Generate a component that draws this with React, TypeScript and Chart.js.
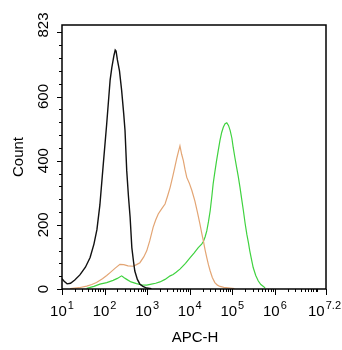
import { useEffect, useRef } from 'react';
import { Chart, registerables } from 'chart.js';

Chart.register(...registerables);

// ---- Data (x as log10 exponents, y as counts) ----
const blackExp = [1.0, 1.05, 1.12, 1.2, 1.3, 1.42, 1.55, 1.66, 1.75, 1.82, 1.89, 1.97, 2.05, 2.1, 2.13, 2.17, 2.22, 2.25, 2.27, 2.3, 2.35, 2.4, 2.45, 2.48, 2.52, 2.56, 2.6, 2.64, 2.68, 2.71, 2.77, 2.83, 2.9, 2.99, 3.1];
const blackCount = [32, 24, 16, 18, 28, 44, 68, 98, 140, 185, 262, 390, 515, 600, 651, 690, 728, 745, 742, 715, 680, 620, 545, 494, 369, 290, 223, 129, 85, 56, 30, 15, 8, 3, 1];

const tanExp = [1.19, 1.4, 1.58, 1.7, 1.81, 1.95, 2.05, 2.13, 2.25, 2.36, 2.45, 2.55, 2.67, 2.75, 2.83, 2.92, 2.99, 3.06, 3.14, 3.2, 3.26, 3.34, 3.42, 3.48, 3.54, 3.6, 3.65, 3.7, 3.73, 3.77, 3.81, 3.85, 3.89, 3.93, 3.99, 4.05, 4.12, 4.18, 4.24, 4.28, 4.32, 4.36, 4.4, 4.44, 4.48, 4.53, 4.59, 4.65, 4.71, 4.8, 4.95, 5.05];
const tanCount = [1, 4, 9, 14, 20, 32, 42, 51, 65, 77, 76, 72, 71, 76, 82, 100, 119, 150, 192, 215, 234, 250, 265, 290, 317, 350, 380, 410, 426, 446, 420, 400, 372, 348, 330, 307, 275, 240, 202, 175, 150, 122, 98, 75, 56, 36, 20, 12, 8, 5, 3, 1];

const greenExp = [1.58, 1.75, 1.89, 2.05, 2.2, 2.3, 2.4, 2.46, 2.52, 2.62, 2.75, 2.87, 2.99, 3.1, 3.2, 3.3, 3.42, 3.54, 3.61, 3.68, 3.77, 3.9, 4.01, 4.1, 4.2, 4.28, 4.32, 4.36, 4.4, 4.44, 4.48, 4.52, 4.55, 4.59, 4.63, 4.67, 4.71, 4.75, 4.79, 4.83, 4.87, 4.91, 4.95, 4.99, 5.02, 5.06, 5.1, 5.14, 5.18, 5.22, 5.26, 5.3, 5.34, 5.38, 5.41, 5.45, 5.49, 5.55, 5.61, 5.67, 5.73, 5.77];
const greenCount = [2, 8, 15, 20, 27, 33, 41, 35, 30, 22, 17, 13, 12, 15, 18, 22, 30, 41, 45, 52, 62, 80, 98, 112, 129, 140, 148, 162, 181, 210, 244, 290, 328, 365, 400, 432, 463, 488, 505, 515, 518, 510, 494, 470, 442, 410, 380, 350, 317, 280, 244, 205, 171, 143, 119, 92, 67, 42, 25, 14, 8, 3];

const xTickExps = [1, 2, 3, 4, 5, 6, 7.2];
const xTickSup = ['1', '2', '3', '4', '5', '6', '7.2'];
const yTickValues = [0, 200, 400, 600, 800];
const yTickLabels = ['0', '200', '400', '600', '823'];
const yLabelValues = [0, 200, 400, 600, 823];
const yMinorStep = 40;
const xTitle = 'APC-H';
const yTitle = 'Count';
const X_MIN_EXP = 1;
const X_MAX_EXP = 7.2;
const Y_MAX = 823;

const FONT = "'Liberation Sans', Arial, Helvetica, sans-serif";

function toPoints(exps: number[], counts: number[]) {
  return exps.map((e, i) => ({ x: Math.pow(10, e), y: counts[i] }));
}

const axesPlugin = {
  id: 'flowAxes',
  afterDraw(chart: any) {
    const ctx = chart.ctx as CanvasRenderingContext2D;
    const xs = chart.scales.x;
    const ys = chart.scales.y;
    const { left, right, top, bottom } = chart.chartArea;
    ctx.save();
    ctx.strokeStyle = '#000';
    ctx.fillStyle = '#000';
    ctx.lineWidth = 1.5;
    ctx.strokeRect(left, top, right - left, bottom - top);

    ctx.lineWidth = 1;
    // x ticks
    const minorX: number[] = [];
    for (let d = Math.floor(X_MIN_EXP); d <= Math.floor(X_MAX_EXP); d++) {
      for (let m = 2; m <= 10; m++) {
        const v = m * Math.pow(10, d);
        const e = Math.log10(v);
        if (e > X_MIN_EXP && e < X_MAX_EXP && !xTickExps.includes(Math.round(e * 1000) / 1000)) minorX.push(v);
      }
    }
    ctx.beginPath();
    minorX.forEach((v) => {
      const px = Math.round(xs.getPixelForValue(v)) + 0.5;
      ctx.moveTo(px, bottom);
      ctx.lineTo(px, bottom + 3);
    });
    xTickExps.forEach((e) => {
      const px = Math.round(xs.getPixelForValue(Math.pow(10, e))) + 0.5;
      ctx.moveTo(px, bottom);
      ctx.lineTo(px, bottom + 6);
    });
    // y ticks
    for (let v = 0; v <= Y_MAX; v += yMinorStep) {
      const py = Math.round(ys.getPixelForValue(v)) + 0.5;
      const major = yTickValues.includes(v);
      ctx.moveTo(left, py);
      ctx.lineTo(left - (major ? 5 : 3), py);
    }
    ctx.stroke();

    // x tick labels: 10^n
    ctx.textBaseline = 'alphabetic';
    ctx.textAlign = 'left';
    xTickExps.forEach((e, i) => {
      const px = xs.getPixelForValue(Math.pow(10, e));
      ctx.font = `15px ${FONT}`;
      const wBase = ctx.measureText('10').width;
      ctx.font = `11px ${FONT}`;
      const wSup = ctx.measureText(xTickSup[i]).width;
      let x0 = px - (wBase + wSup + 1) / 2;
      if (x0 + wBase + wSup + 1 > 341) x0 = 341 - (wBase + wSup + 1);
      ctx.font = `15px ${FONT}`;
      ctx.fillText('10', x0, bottom + 27);
      ctx.font = `11px ${FONT}`;
      ctx.fillText(xTickSup[i], x0 + wBase + 1, bottom + 20);
    });

    // y tick labels (rotated)
    ctx.font = `15px ${FONT}`;
    ctx.textAlign = 'center';
    yTickLabels.forEach((lab, i) => {
      const py = ys.getPixelForValue(yLabelValues[i]);
      ctx.save();
      ctx.translate(left - 14, py);
      ctx.rotate(-Math.PI / 2);
      ctx.fillText(lab, 0, 0);
      ctx.restore();
    });

    // titles
    ctx.font = `15px ${FONT}`;
    ctx.textAlign = 'center';
    ctx.fillText(xTitle, (left + right) / 2 + 1, bottom + 53);
    ctx.save();
    ctx.translate(23, (top + bottom) / 2);
    ctx.rotate(-Math.PI / 2);
    ctx.fillText(yTitle, 0, 0);
    ctx.restore();
    ctx.restore();
  },
};

export default function App() {
  const ref = useRef<HTMLCanvasElement>(null);
  useEffect(() => {
    if (!ref.current) return;
    const chart = new Chart(ref.current, {
      type: 'line',
      data: {
        datasets: [
          { data: toPoints(blackExp, blackCount), borderColor: '#111111', borderWidth: 1.4 },
          { data: toPoints(tanExp, tanCount), borderColor: '#e3a574', borderWidth: 1.2 },
          { data: toPoints(greenExp, greenCount), borderColor: '#3fd23f', borderWidth: 1.2 },
        ] as any,
      },
      options: {
        responsive: false,
        animation: false,
        devicePixelRatio: 1,
        parsing: false as any,
        elements: { point: { radius: 0 }, line: { tension: 0 } },
        layout: { padding: { left: 62, right: 16, top: 25, bottom: 61 } },
        scales: {
          x: { type: 'logarithmic', min: Math.pow(10, X_MIN_EXP), max: Math.pow(10, X_MAX_EXP), display: false },
          y: { type: 'linear', min: 0, max: Y_MAX, display: false },
        },
        plugins: { legend: { display: false }, tooltip: { enabled: false } },
      },
      plugins: [axesPlugin],
    });
    return () => chart.destroy();
  }, []);
  return (
    <div style={{ position: 'fixed', left: 0, top: 0, width: 342, height: 350, background: '#fff' }}>
      <canvas ref={ref} width={342} height={350} style={{ width: 342, height: 350 }} />
    </div>
  );
}
